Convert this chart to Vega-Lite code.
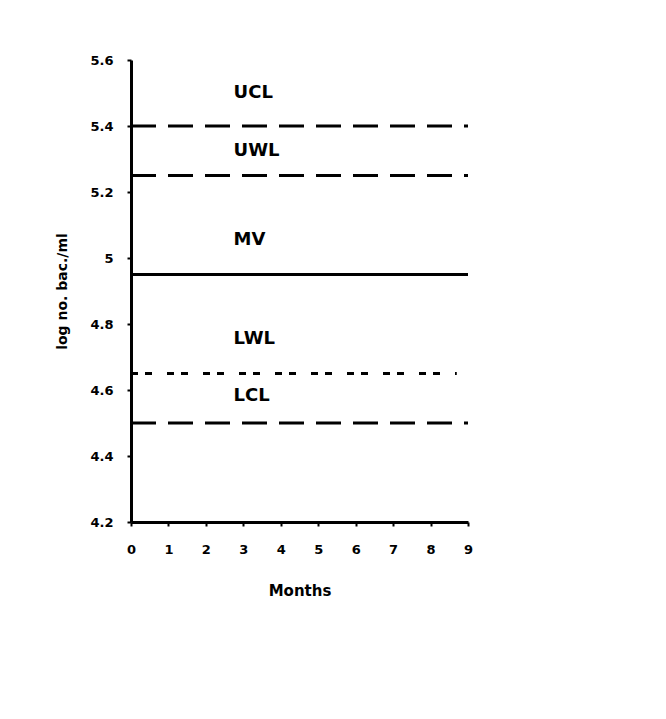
{
  "$schema": "https://vega.github.io/schema/vega-lite/v6.json",
  "autosize": "none",
  "width": 337,
  "height": 462,
  "padding": {"left": 131, "top": 60, "right": 198, "bottom": 197},
  "background": "white",
  "config": {
    "view": {"stroke": null},
    "font": "DejaVu Sans",
    "axis": {
      "domainColor": "black",
      "domainWidth": 3,
      "tickColor": "black",
      "tickWidth": 2,
      "tickSize": 4,
      "grid": false,
      "labelColor": "black",
      "labelFont": "DejaVu Sans",
      "labelFontWeight": "bold",
      "labelFontSize": 13,
      "labelOverlap": false,
      "labelFlush": false,
      "titleColor": "black",
      "titleFont": "DejaVu Sans",
      "titleFontWeight": "bold",
      "titleFontSize": 14
    }
  },
  "datasets": {
    "lines": [
      {"name": "UCL", "value": 5.4, "start": 0, "end": 9, "style": "dash"},
      {"name": "UWL", "value": 5.25, "start": 0, "end": 9, "style": "dash"},
      {"name": "MV", "value": 4.95, "start": 0, "end": 9, "style": "solid"},
      {"name": "LWL", "value": 4.65, "start": 0, "end": 8.7, "style": "dot"},
      {"name": "LCL", "value": 4.5, "start": 0, "end": 9, "style": "dash"}
    ],
    "labels": [
      {"name": "UCL", "start": 2.74, "value": 5.5},
      {"name": "UWL", "start": 2.74, "value": 5.325},
      {"name": "MV", "start": 2.74, "value": 5.055},
      {"name": "LWL", "start": 2.74, "value": 4.755},
      {"name": "LCL", "start": 2.74, "value": 4.582}
    ]
  },
  "encoding": {
    "x": {"field": "start", "type": "quantitative", "scale": {"domain": [0, 9], "nice": false},
      "axis": {"title": "Months", "titleFontSize": 15, "values": [0,1,2,3,4,5,6,7,8,9], "tickCount": 10, "labelPadding": 17, "titlePadding": 27}},
    "y": {"field": "value", "type": "quantitative", "scale": {"domain": [4.2, 5.6], "nice": false, "zero": false},
      "axis": {"title": "log no. bac./ml", "values": [4.2,4.4,4.6,4.8,5,5.2,5.4,5.6], "format": "~f", "labelPadding": 14, "titlePadding": 20}}
  },
  "layer": [
    {
      "data": {"name": "lines"},
      "transform": [{"filter": "datum.style === 'dash'"}],
      "mark": {"type": "rule", "strokeWidth": 3, "color": "black", "strokeDash": [25, 12]},
      "encoding": {"x2": {"field": "end"}}
    },
    {
      "data": {"name": "lines"},
      "transform": [{"filter": "datum.style === 'solid'"}],
      "mark": {"type": "rule", "strokeWidth": 3, "color": "black"},
      "encoding": {"x2": {"field": "end"}}
    },
    {
      "data": {"name": "lines"},
      "transform": [{"filter": "datum.style === 'dot'"}],
      "mark": {"type": "rule", "strokeWidth": 3, "color": "black", "strokeDash": [7, 7, 7, 15]},
      "encoding": {"x2": {"field": "end"}}
    },
    {
      "data": {"name": "labels"},
      "mark": {"type": "text", "align": "left", "baseline": "middle", "fontSize": 18, "font": "DejaVu Sans", "fontWeight": "bold", "color": "black"},
      "encoding": {"text": {"field": "name"}}
    }
  ]
}
